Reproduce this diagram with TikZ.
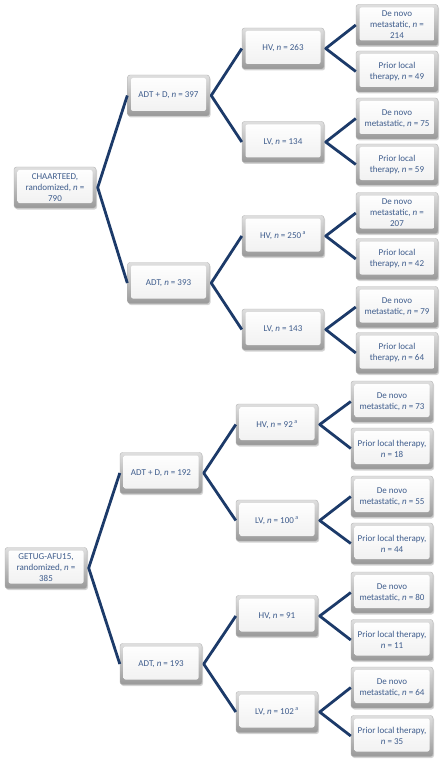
\documentclass[tikz,border=0pt]{standalone}
\usepackage{fontspec}
\setmainfont{Carlito}
\usetikzlibrary{shadows}
\definecolor{linec}{RGB}{28,58,105}
\definecolor{txtc}{RGB}{62,92,140}
\tikzset{
  box/.style={rounded corners=2.5pt, draw=gray!60, line width=0.4pt,
    top color=gray!25, bottom color=gray!80,
    drop shadow={shadow xshift=1pt, shadow yshift=-1.5pt, opacity=0.35},
    minimum width=82pt, minimum height=41pt, inner sep=1pt,
    align=center, text=txtc, font=\fontsize{9}{11}\selectfont,
    path picture={\shade[top color=white, bottom color=gray!12, rounded corners=2pt]
      ([shift={(3.5pt,-3pt)}]path picture bounding box.north west) rectangle
      ([shift={(-3.5pt,5pt)}]path picture bounding box.south east);}},
  conn/.style={draw=linec, line width=2.8pt, line join=round}
}
\newcommand{\nn}{\textit{n}}
\newcommand{\supa}{\textsuperscript{a}}
\begin{document}
\begin{tikzpicture}[x=1pt,y=-1pt]
\useasboundingbox (0,0) rectangle (443,762);
% ---------- CHAARTEED ----------
\node[box] (r1) at (55,187.5) {CHAARTEED,\\randomized, \nn{} =\\790};
\node[box] (a1) at (168.5,95.5) {ADT + D, \nn{} = 397};
\node[box] (a2) at (168.5,283) {ADT, \nn{} = 393};
\node[box] (b1) at (283,48.5) {HV, \nn{} = 263};
\node[box] (b2) at (283,142) {LV, \nn{} = 134};
\node[box] (b3) at (283,236) {HV, \nn{} = 250\,\supa};
\node[box] (b4) at (283,329.5) {LV, \nn{} = 143};
\node[box] (c1) at (397,25) {De novo\\metastatic, \nn{} =\\214};
\node[box] (c2) at (397,71.5) {Prior local\\therapy, \nn{} = 49};
\node[box] (c3) at (397,118.5) {De novo\\metastatic, \nn{} = 75};
\node[box] (c4) at (397,164.5) {Prior local\\therapy, \nn{} = 59};
\node[box] (c5) at (397,213) {De novo\\metastatic, \nn{} =\\207};
\node[box] (c6) at (397,259) {Prior local\\therapy, \nn{} = 42};
\node[box] (c7) at (397,307) {De novo\\metastatic, \nn{} = 79};
\node[box] (c8) at (397,353) {Prior local\\therapy, \nn{} = 64};
% ---------- GETUG ----------
\node[box] (s1) at (46,568) {GETUG-AFU15,\\randomized, \nn{} =\\385};
\node[box] (d1) at (161,473) {ADT + D, \nn{} = 192};
\node[box] (d2) at (161,664) {ADT, \nn{} = 193};
\node[box] (e1) at (277,424.5) {HV, \nn{} = 92\,\supa};
\node[box] (e2) at (277,520.5) {LV, \nn{} = 100\,\supa};
\node[box] (e3) at (277,616) {HV, \nn{} = 91};
\node[box] (e4) at (277,712) {LV, \nn{} = 102\,\supa};
\node[box] (f1) at (392,401.5) {De novo\\metastatic, \nn{} = 73};
\node[box] (f2) at (392,448.5) {Prior local therapy,\\\nn{} = 18};
\node[box] (f3) at (392,496.5) {De novo\\metastatic, \nn{} = 55};
\node[box] (f4) at (392,543.5) {Prior local therapy,\\\nn{} = 44};
\node[box] (f5) at (392,592.5) {De novo\\metastatic, \nn{} = 80};
\node[box] (f6) at (392,640) {Prior local therapy,\\\nn{} = 11};
\node[box] (f7) at (392,687.5) {De novo\\metastatic, \nn{} = 64};
\node[box] (f8) at (392,736) {Prior local therapy,\\\nn{} = 35};
% ---------- connectors ----------
\foreach \p/\u/\l in {r1/a1/a2, a1/b1/b2, a2/b3/b4, b1/c1/c2, b2/c3/c4, b3/c5/c6, b4/c7/c8,
                      s1/d1/d2, d1/e1/e2, d2/e3/e4, e1/f1/f2, e2/f3/f4, e3/f5/f6, e4/f7/f8}
  \draw[conn] (\u.west) -- ([xshift=1.5pt]\p.east) -- (\l.west);
\end{tikzpicture}
\end{document}
